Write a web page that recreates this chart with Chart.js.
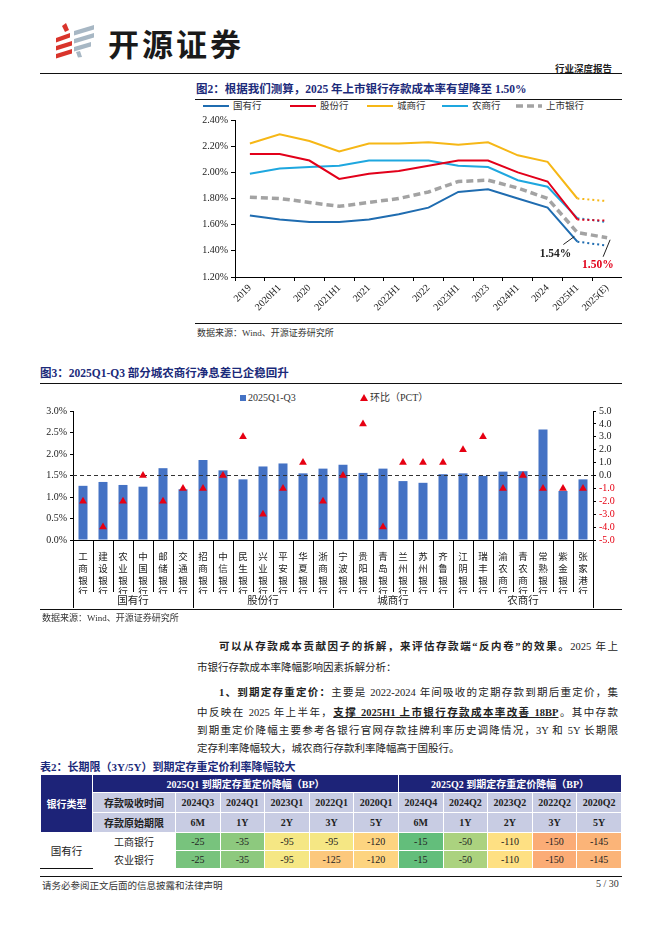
<!DOCTYPE html>
<html>
<head>
<meta charset="utf-8">
<script src="https://cdn.jsdelivr.net/npm/chart.js@4.4.0/dist/chart.umd.min.js"></script>
<style>
  body { margin: 0; background: #fff; }
  #page { position: relative; width: 662px; height: 936px; overflow: hidden;
          font-family: "Liberation Serif", "Noto Sans CJK SC", serif; color: #222; }
  .hr { position: absolute; height: 0; border-top: 1px solid #111; }
  .ttl { position: absolute; font-weight: bold; color: #1b2a7a; font-size: 11.5px; white-space: nowrap; }
  .src { position: absolute; font-size: 9px; color: #333; white-space: nowrap; }
  .ln { position: absolute; height: 20px; line-height: 20px; font-size: 10.5px; white-space: nowrap; color: #222; }
  .just { text-align: justify; text-align-last: justify; }
  .lg { position: absolute; font-size: 9.5px; color: #333; white-space: nowrap; line-height: 12px; }
  .lg svg { vertical-align: middle; margin-right: 4px; position: relative; top: -1px; }
  canvas { position: absolute; }
  #t2 { position: absolute; left: 40px; top: 774px; width: 582px; border-collapse: collapse;
        table-layout: fixed; font-size: 10px; }
  #t2 td { padding: 0; text-align: center; border: 1px solid #fff; white-space: nowrap; }
  .nv { background: #1d2378; color: #fff; font-weight: bold; }
  .lv { background: #c8cce3; color: #222; font-weight: bold; }
  .q2 { border-left: 1px solid #333 !important; }
</style>
</head>
<body>
<div id="page">
  <!-- header -->
  <svg style="position:absolute;left:0;top:0" width="110" height="70">
    <polygon points="62,26 66,23 69,30 65,32" fill="#d9342b"/>
    <polygon points="56,38 70,33 70,37.5 56,42.5" fill="#d9342b"/>
    <polygon points="56,46 72,41 72,45.5 56,50.5" fill="#d9342b"/>
    <polygon points="56,54 72,49 72,53.5 56,58.5" fill="#d9342b"/>
    <polygon points="74,31 94,25 94,29.5 74,35.5" fill="#a7b7c4"/>
    <polygon points="74,39 94,33 94,37.5 74,43.5" fill="#a7b7c4"/>
    <polygon points="74,47 91,42 91,46.5 74,51.5" fill="#a7b7c4"/>
    <polygon points="76,52 80,51 82,57 78,57.5" fill="#a7b7c4"/>
  </svg>
  <div style="position:absolute;left:108px;top:20px;font:bold 31px 'Noto Sans CJK SC';letter-spacing:3px;color:#1a1a1a;">开源证券</div>
  <div style="position:absolute;left:555px;top:61px;font:bold 9.5px 'Noto Sans CJK SC';color:#222;">行业深度报告</div>
  <div class="hr" style="left:40px;top:73px;width:582px;border-top-width:1.5px;"></div>

  <!-- figure 2 -->
  <div class="ttl" style="left:196px;top:80px;">图2：根据我们测算，2025 年上市银行存款成本率有望降至 1.50%</div>
  <div class="hr" style="left:195px;top:99px;width:427px;"></div>
  <div id="lg1"></div>
  <canvas id="c1" width="427" height="211" style="left:195px;top:111px;"></canvas>
  <div class="hr" style="left:195px;top:323px;width:427px;"></div>
  <div class="src" style="left:197px;top:326px;">数据来源：Wind、开源证券研究所</div>

  <!-- figure 3 -->
  <div class="ttl" style="left:40px;top:364px;">图3：2025Q1-Q3 部分城农商行净息差已企稳回升</div>
  <div class="hr" style="left:40px;top:383px;width:582px;"></div>
  <div id="lg2"></div>
  <canvas id="c2" width="582" height="208" style="left:40px;top:402px;"></canvas>
  <div class="hr" style="left:40px;top:609px;width:582px;"></div>
  <div class="src" style="left:42px;top:611px;">数据来源：Wind、开源证券研究所</div>

  <!-- body text -->
  <div class="ln just" style="left:219px;top:637px;width:399px;"><b>可以从存款成本贡献因子的拆解，来评估存款端“反内卷”的效果。</b>2025 年上</div>
  <div class="ln" style="left:197px;top:658px;">市银行存款成本率降幅影响因素拆解分析：</div>
  <div class="ln just" style="left:219px;top:683px;width:399px;"><b>1、到期定存重定价：</b>主要是 2022-2024 年间吸收的定期存款到期后重定价，集</div>
  <div class="ln just" style="left:197px;top:702.5px;width:421px;">中反映在 2025 年上半年，<b><u>支撑 2025H1 上市银行存款成本率改善 18BP</u></b>。其中存款</div>
  <div class="ln just" style="left:197px;top:721px;width:421px;">到期重定价降幅主要参考各银行官网存款挂牌利率历史调降情况，3Y 和 5Y 长期限</div>
  <div class="ln" style="left:197px;top:739px;">定存利率降幅较大，城农商行存款利率降幅高于国股行。</div>

  <!-- table 2 -->
  <div class="ttl" style="left:40px;top:758px;font-size:11px;">表2：长期限（3Y/5Y）到期定存重定价利率降幅较大</div>
  <table id="t2">
    <colgroup>
      <col style="width:52px"><col style="width:83px">
      <col><col><col><col><col><col><col><col><col><col>
    </colgroup>
    <tr style="height:18px"><td class="nv" rowspan="3">银行类型</td><td class="nv" colspan="6">2025Q1 到期定存重定价降幅（BP）</td><td class="nv" colspan="5">2025Q2 到期定存重定价降幅（BP）</td></tr>
    <tr style="height:20px"><td class="lv">存款吸收时间</td><td class="lv">2024Q3</td><td class="lv">2024Q1</td><td class="lv">2023Q1</td><td class="lv">2022Q1</td><td class="lv">2020Q1</td><td class="lv">2024Q4</td><td class="lv">2024Q2</td><td class="lv">2023Q2</td><td class="lv">2022Q2</td><td class="lv">2020Q2</td></tr>
    <tr style="height:20px"><td class="lv">存款原始期限</td><td class="lv">6M</td><td class="lv">1Y</td><td class="lv">2Y</td><td class="lv">3Y</td><td class="lv">5Y</td><td class="lv">6M</td><td class="lv">1Y</td><td class="lv">2Y</td><td class="lv">3Y</td><td class="lv">5Y</td></tr>
    <tr style="height:18px"><td rowspan="2" style="font-size:10.5px;border-bottom:1.5px solid #111;">国有行</td><td>工商银行</td>
      <td style="background:#78c37d">-25</td><td style="background:#8dc97e">-35</td><td style="background:#f5e784">-95</td><td style="background:#f5e784">-95</td><td style="background:#fdd480">-120</td>
      <td class="q2" style="background:#63be7b">-15</td><td style="background:#abd27f">-50</td><td style="background:#fee083">-110</td><td style="background:#fbac76">-150</td><td style="background:#fbb478">-145</td></tr>
    <tr style="height:18px"><td>农业银行</td>
      <td style="background:#78c37d">-25</td><td style="background:#8dc97e">-35</td><td style="background:#f5e784">-95</td><td style="background:#fcc87c">-125</td><td style="background:#fdd480">-120</td>
      <td class="q2" style="background:#63be7b">-15</td><td style="background:#abd27f">-50</td><td style="background:#fee083">-110</td><td style="background:#fbac76">-150</td><td style="background:#fbb478">-145</td></tr>
  </table>

  <!-- footer -->
  <div class="hr" style="left:40px;top:876px;width:582px;"></div>
  <div class="src" style="left:42px;top:878px;font-size:9.5px;">请务必参阅正文后面的信息披露和法律声明</div>
  <div class="src" style="left:596px;top:878px;font-size:10px;">5 / 30</div>
</div>

<script>
// ── Figure 2: listed-bank deposit cost rate (%) ──
const PERIODS   = ['2019', '2020H1', '2020', '2021H1', '2021', '2022H1', '2022', '2023H1', '2023', '2024H1', '2024', '2025H1', '2025(E)'];
const SOE       = [1.67, 1.64, 1.62, 1.62, 1.64, 1.68, 1.73, 1.85, 1.87, 1.80, 1.73, 1.47, 1.44]; // 国有行
const JOINT     = [2.14, 2.14, 2.09, 1.95, 1.99, 2.01, 2.05, 2.09, 2.09, 2.00, 1.93, 1.64, 1.63]; // 股份行
const CITY      = [2.22, 2.29, 2.24, 2.16, 2.22, 2.22, 2.23, 2.21, 2.23, 2.13, 2.08, 1.80, 1.78]; // 城商行
const RURAL     = [1.99, 2.03, 2.04, 2.05, 2.09, 2.09, 2.09, 2.05, 2.04, 1.94, 1.89, 1.65, 1.62]; // 农商行
const LISTED    = [1.81, 1.80, 1.77, 1.74, 1.77, 1.80, 1.85, 1.93, 1.94, 1.88, 1.80, 1.54, 1.50]; // 上市银行
const Y1_TICKS  = [1.2, 2.4, 0.2]; // min, max, step

// ── Figure 3: NIM 2025Q1-Q3 and QoQ change ──
const BANKS = ['工商银行', '建设银行', '农业银行', '中国银行', '邮储银行', '交通银行',
  '招商银行', '中信银行', '民生银行', '兴业银行', '平安银行', '华夏银行', '浙商银行',
  '宁波银行', '贵阳银行', '青岛银行', '兰州银行', '苏州银行', '齐鲁银行',
  '江阴银行', '瑞丰银行', '渝农商行', '青农商行', '常熟银行', '紫金银行', '张家港行'];
const NIM = [1.26, 1.35, 1.28, 1.24, 1.67, 1.18, 1.86, 1.62, 1.41, 1.71, 1.78, 1.55, 1.66,
  1.75, 1.56, 1.66, 1.37, 1.33, 1.53, 1.55, 1.49, 1.59, 1.60, 2.57, 1.14, 1.41];
const QOQ = [-2, -4, -2, 0, -2, -1, -1, 0, 3, -3, -1, 1, -2,
  0, 4, -4, 1, 1, 1, 2, 3, -1, 0, -1, -1, -1];
const GROUP_NAMES = ['国有行', '股份行', '城商行', '农商行'];
const GROUP_SIZES = [6, 7, 6, 7];

const C = {
  soe: '#1f6cb0', joint: '#e2001a', city: '#f6b716', rural: '#1ea7df', listed: '#a3a3a3',
  bar: '#4472c4', tri: '#e60012', ink: '#222'
};
const SERIF = '"Liberation Serif", "Noto Sans CJK SC", serif';
const CJK = '"Noto Sans CJK SC", sans-serif';
Chart.defaults.font.family = SERIF;
Chart.defaults.color = C.ink;
Chart.defaults.animation = false;

function lineSet(label, data, color, dashed) {
  const last = data.length - 1;
  return {
    label, data,
    borderColor: color, backgroundColor: color,
    borderWidth: dashed ? 3.5 : 2,
    borderDash: dashed ? [7, 4] : [],
    pointRadius: 0, tension: 0,
    segment: {
      // 2025(E) is an estimate: dotted for the solid series
      borderDash: c => dashed ? [7, 4] : (c.p1DataIndex === last ? [2, 3] : [])
    }
  };
}

// ── HTML legend sample line ──
function legendLine(ds) {
  const dash = ds.borderDash.length ? ` stroke-dasharray="${ds.borderDash.join(',')}"` : '';
  return `<svg width="26" height="6"><line x1="0" y1="3" x2="26" y2="3" stroke="${ds.borderColor}" stroke-width="${ds.borderWidth}"${dash}/></svg>`;
}

// callouts on the 上市银行 line (1.54% / 1.50%)
const callouts = {
  id: 'callouts',
  afterDatasetsDraw(chart) {
    const xs = chart.scales.x, ys = chart.scales.y, ctx = chart.ctx;
    const iH = LISTED.length - 2, iE = LISTED.length - 1;
    const hx = xs.getPixelForValue(iH), hy = ys.getPixelForValue(LISTED[iH]);
    const ex = xs.getPixelForValue(iE), ey = ys.getPixelForValue(LISTED[iE]);
    ctx.save();
    ctx.lineWidth = 1;
    ctx.strokeStyle = '#222';
    ctx.beginPath(); ctx.moveTo(hx - 14, hy + 12); ctx.lineTo(hx - 3, hy + 4); ctx.stroke();
    ctx.beginPath(); ctx.moveTo(ex - 4, ey + 19); ctx.lineTo(ex + 3, ey + 2); ctx.stroke();
    ctx.font = 'bold 11.5px ' + SERIF;
    ctx.textAlign = 'right';
    ctx.fillStyle = '#222';
    ctx.fillText(LISTED[iH].toFixed(2) + '%', hx - 6, hy + 24);
    ctx.textAlign = 'left';
    ctx.fillStyle = '#e2001a';
    ctx.fillText(LISTED[iE].toFixed(2) + '%', ex - 25, ey + 30);
    ctx.restore();
  }
};

const chart1 = new Chart(document.getElementById('c1'), {
  type: 'line',
  data: {
    labels: PERIODS,
    datasets: [
      lineSet('国有行', SOE, C.soe, false),
      lineSet('股份行', JOINT, C.joint, false),
      lineSet('城商行', CITY, C.city, false),
      lineSet('农商行', RURAL, C.rural, false),
      lineSet('上市银行', LISTED, C.listed, true)
    ]
  },
  options: {
    responsive: false,
    plugins: { tooltip: { enabled: false }, legend: { display: false } },
    scales: {
      x: {
        offset: true,
        grid: { offset: true, drawOnChartArea: false, tickLength: 4, color: '#000' },
        border: { color: '#000' },
        ticks: { maxRotation: 45, minRotation: 45, font: { size: 10 }, padding: 1 },
        afterFit: s => { s.height = 45; }
      },
      y: {
        min: Y1_TICKS[0], max: Y1_TICKS[1],
        grid: { drawOnChartArea: false, tickLength: 4, color: '#000' },
        border: { color: '#000' },
        ticks: { stepSize: Y1_TICKS[2], font: { size: 10 }, callback: v => v.toFixed(2) + '%' },
        afterFit: s => { s.width = 40; }
      }
    }
  },
  plugins: [callouts]
});

const LG1_X = [203, 290, 367, 442, 516];
document.getElementById('lg1').innerHTML = chart1.data.datasets.map((ds, i) =>
  `<div class="lg" style="left:${LG1_X[i]}px;top:100px;">${legendLine(ds)}${ds.label}</div>`).join('');

// dashed reference line at 0 (PCT) / 1.5%, drawn over the bars
const zeroLine = {
  id: 'zeroLine',
  afterDatasetDraw(chart, args) {
    if (args.index !== 0) return;
    const y = chart.scales.y2.getPixelForValue(0), a = chart.chartArea, ctx = chart.ctx;
    ctx.save();
    ctx.strokeStyle = '#333'; ctx.lineWidth = 1; ctx.setLineDash([4, 3]);
    ctx.beginPath(); ctx.moveTo(a.left, y); ctx.lineTo(a.right, y); ctx.stroke();
    ctx.restore();
  }
};

// category separators + group row under the x axis
const groupAxis = {
  id: 'groupAxis',
  afterDraw(chart) {
    const xs = chart.scales.x, ctx = chart.ctx, base = chart.chartArea.bottom;
    const n = BANKS.length;
    const edge = i => i === 0 ? xs.left : i === n ? xs.right
      : (xs.getPixelForValue(i - 1) + xs.getPixelForValue(i)) / 2;
    const bounds = [0];
    GROUP_SIZES.forEach(s => bounds.push(bounds[bounds.length - 1] + s));
    ctx.save();
    ctx.strokeStyle = '#000'; ctx.lineWidth = 1;
    for (let i = 0; i <= n; i++) {
      const x = Math.round(edge(i)) + 0.5;
      const len = bounds.includes(i) ? 68 : 52;
      ctx.beginPath(); ctx.moveTo(x, base); ctx.lineTo(x, base + len); ctx.stroke();
    }
    ctx.font = '10.5px ' + CJK;
    ctx.fillStyle = '#222'; ctx.textAlign = 'center'; ctx.textBaseline = 'middle';
    GROUP_NAMES.forEach((g, k) => {
      ctx.fillText(g, (edge(bounds[k]) + edge(bounds[k + 1])) / 2, base + 60);
    });
    ctx.restore();
  }
};

const chart2 = new Chart(document.getElementById('c2'), {
  data: {
    labels: BANKS.map(b => b.split('')),
    datasets: [
      {
        type: 'bar', label: '2025Q1-Q3', data: NIM, yAxisID: 'y',
        backgroundColor: C.bar, categoryPercentage: 0.9, barPercentage: 0.5, order: 1
      },
      {
        type: 'line', label: '环比（PCT）', data: QOQ, yAxisID: 'y2',
        showLine: false, pointStyle: 'triangle', pointRadius: 4.5,
        backgroundColor: C.tri, borderColor: C.tri, borderWidth: 0, order: 0
      }
    ]
  },
  options: {
    responsive: false,
    layout: { padding: { bottom: 16 } },
    plugins: { tooltip: { enabled: false }, legend: { display: false } },
    scales: {
      x: {
        grid: { display: false },
        border: { color: '#000' },
        ticks: { autoSkip: false, maxRotation: 0, minRotation: 0, padding: 3,
                 font: { family: CJK, size: 9.5, lineHeight: 1.22 } },
        afterFit: s => { s.height = 54; }
      },
      y: {
        position: 'left', min: 0, max: 3,
        grid: { drawOnChartArea: false, tickLength: 3, color: '#000' },
        border: { color: '#000' },
        ticks: { stepSize: 0.5, font: { size: 10 }, callback: v => v.toFixed(1) + '%' },
        afterFit: s => { s.width = 33; }
      },
      y2: {
        position: 'right', min: -5, max: 5,
        grid: { drawOnChartArea: false, tickLength: 3, color: '#000' },
        border: { color: '#000' },
        ticks: { stepSize: 1, autoSkip: false, font: { size: 10 }, callback: v => v.toFixed(1),
                 color: c => c.tick.value < 0 ? C.tri : C.ink },
        afterFit: s => { s.width = 29; }
      }
    }
  },
  plugins: [zeroLine, groupAxis]
});

const [barDs, triDs] = chart2.data.datasets;
document.getElementById('lg2').innerHTML =
  `<div class="lg" style="left:240px;top:392px;font-size:10px;"><svg width="6" height="6" style="margin-right:2px"><rect width="6" height="6" fill="${barDs.backgroundColor}"/></svg>${barDs.label}</div>` +
  `<div class="lg" style="left:360px;top:392px;font-size:10px;"><svg width="8" height="7" style="margin-right:2px"><polygon points="4,0 8,7 0,7" fill="${triDs.backgroundColor}"/></svg>${triDs.label}</div>`;
</script>
</body>
</html>
